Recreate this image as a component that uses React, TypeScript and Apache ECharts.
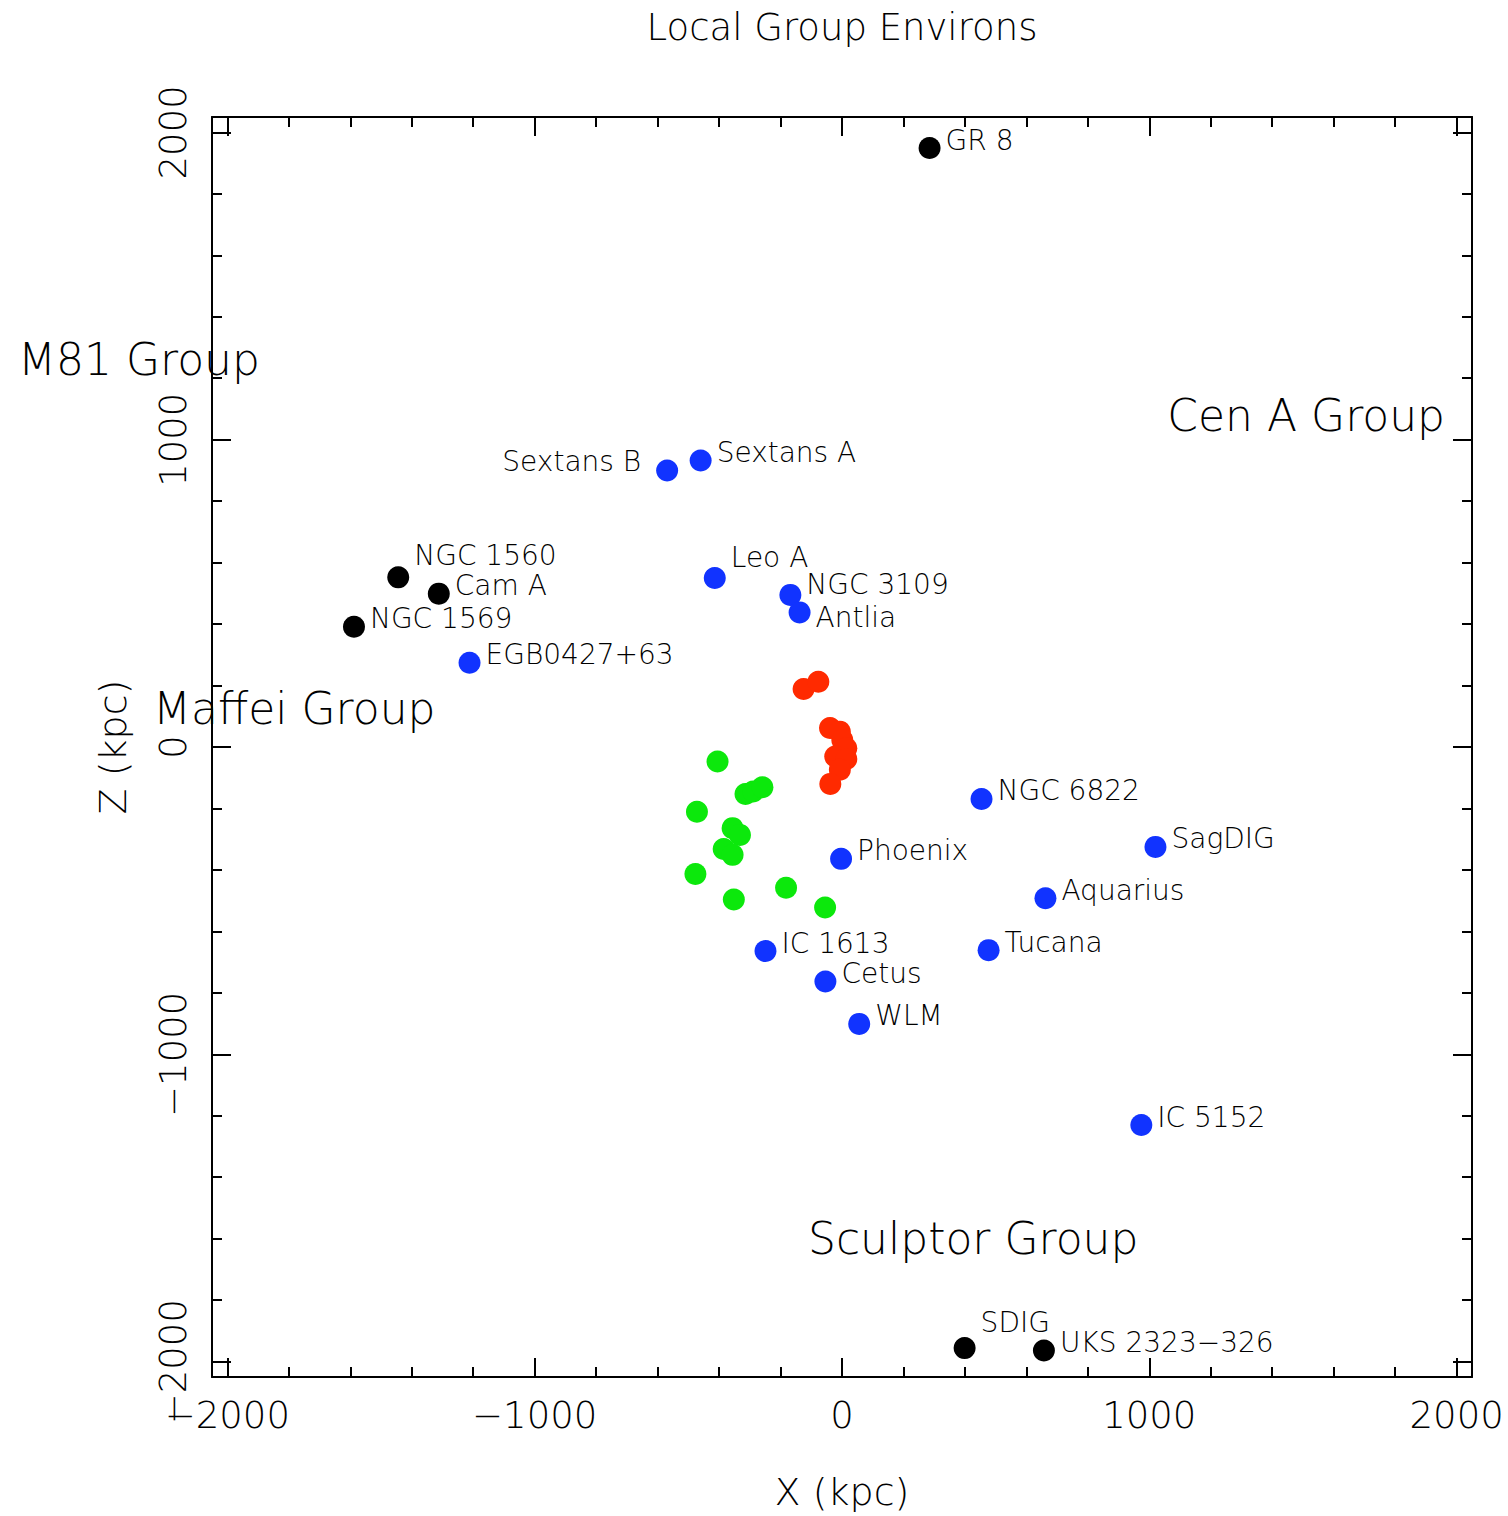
import React, { useEffect, useRef } from "react";
import * as echarts from "echarts";

// ---- data ----
const AXIS_MIN = -2050;
const AXIS_MAX = 2050;
const majorTicks = [-2000, -1000, 0, 1000, 2000];
const minorTicks = [-1800, -1600, -1400, -1200, -800, -600, -400, -200, 200, 400, 600, 800, 1200, 1400, 1600, 1800];

const blackNames = ["GR 8", "NGC 1560", "Cam A", "NGC 1569", "SDIG", "UKS 2323−326"];
const blackX = [285, -1444, -1312, -1588, 399, 657];
const blackZ = [1949, 552, 499, 391, -1956, -1964];

const blueNames = [
  "Sextans B", "Sextans A", "Leo A", "NGC 3109", "Antlia", "EGB0427+63", "NGC 6822", "SagDIG",
  "Phoenix", "Aquarius", "Tucana", "IC 1613", "Cetus", "WLM", "IC 5152",
];
const blueX = [-569, -460, -414, -168, -138, -1212, 454, 1020, -3, 662, 477, -249, -54, 56, 974];
const blueZ = [900, 932, 550, 495, 438, 274, -169, -325, -364, -492, -661, -664, -763, -901, -1230];

const redX = [-125, -77, -39, -7, 1, 14, -22, 14, -7, -38];
const redZ = [189, 212, 62, 50, 23, -4, -31, -39, -74, -120];

const greenX = [-405, -314, -289, -259, -472, -356, -332, -385, -356, -477, -352, -182, -55];
const greenZ = [-47, -153, -145, -131, -211, -264, -286, -332, -351, -413, -496, -458, -522];

const titleText = "Local Group Environs";
const xName = "X (kpc)";
const yName = "Z (kpc)";
const groupLabels = ["M81 Group", "Cen A Group", "Maffei Group", "Sculptor Group"];

// ---- styles ----
const FONT = "'DejaVu Sans', sans-serif";
const WEIGHT = 300;
const labelTweaks: Record<string, any> = {
  "NGC 1560": { offset: [0, -22] },
  "Leo A": { offset: [0, -20] },
  SDIG: { offset: [0, -26] },
  "NGC 3109": { offset: [0, -10] },
  Antlia: { offset: [0, 5] },
  "Sextans B": { position: "left", distance: 15, offset: [0, -9] },
};
const groupLayout = [
  { x: 18, y: 359, align: "left" },
  { x: 1445, y: 415, align: "right" },
  { x: 153, y: 708, align: "left" },
  { x: 808, y: 1238, align: "left" },
];

const fmt = (v: number) => String(v).replace("-", "−");

function xAxisDef(position: string, ticks: number[], len: number, withLabel: boolean, showLine: boolean) {
  return {
    type: "value",
    position,
    min: AXIS_MIN,
    max: AXIS_MAX,
    axisLine: { show: showLine, onZero: false, lineStyle: { color: "#000", width: 2 } },
    axisTick: { show: true, inside: true, length: len, customValues: ticks, lineStyle: { color: "#000", width: 2 } },
    axisLabel: withLabel
      ? { show: true, customValues: majorTicks, formatter: fmt, fontSize: 37, fontWeight: WEIGHT, color: "#000", fontFamily: FONT, margin: 20 }
      : { show: false },
    splitLine: { show: false },
  } as any;
}

function yAxisDef(position: string, ticks: number[], len: number, withLabel: boolean, showLine: boolean) {
  return {
    type: "value",
    position,
    min: AXIS_MIN,
    max: AXIS_MAX,
    axisLine: { show: showLine, onZero: false, lineStyle: { color: "#000", width: 2 } },
    axisTick: { show: true, inside: true, length: len, customValues: ticks, lineStyle: { color: "#000", width: 2 } },
    axisLabel: withLabel
      ? { show: true, customValues: majorTicks, formatter: fmt, fontSize: 37, fontWeight: WEIGHT, color: "#000", fontFamily: FONT, rotate: 90, margin: 20 }
      : { show: false },
    splitLine: { show: false },
  } as any;
}

function namedSeries(names: string[], xs: number[], zs: number[], color: string) {
  return {
    type: "scatter",
    symbol: "circle",
    symbolSize: 22,
    itemStyle: { color, opacity: 1 },
    emphasis: { disabled: true },
    label: {
      show: true,
      position: "right",
      distance: 5,
      offset: [0, -8],
      formatter: "{b}",
      fontSize: 28,
      lineHeight: 27,
      fontWeight: WEIGHT,
      color: "#000",
      fontFamily: FONT,
    },
    data: names.map((n, i) => ({ name: n, value: [xs[i], zs[i]], label: labelTweaks[n] })),
  } as any;
}

function plainSeries(xs: number[], zs: number[], color: string) {
  return {
    type: "scatter",
    symbol: "circle",
    symbolSize: 22,
    itemStyle: { color, opacity: 1 },
    emphasis: { disabled: true },
    data: xs.map((x, i) => [x, zs[i]]),
  } as any;
}

export default function App() {
  const ref = useRef<HTMLDivElement>(null);
  useEffect(() => {
    if (!ref.current) return;
    const chart = echarts.init(ref.current, undefined, { renderer: "svg" });
    const option: any = {
      animation: false,
      backgroundColor: "#fff",
      grid: { left: 212, top: 117, width: 1260, height: 1260, containLabel: false },
      xAxis: [
        {
          ...xAxisDef("bottom", majorTicks, 19, true, true),
          name: xName,
          nameLocation: "middle",
          nameGap: 96,
          nameTextStyle: { fontSize: 38, fontWeight: WEIGHT, color: "#000", fontFamily: FONT },
        },
        xAxisDef("bottom", minorTicks, 10, false, false),
        xAxisDef("top", majorTicks, 19, false, true),
        xAxisDef("top", minorTicks, 10, false, false),
      ],
      yAxis: [
        {
          ...yAxisDef("left", majorTicks, 19, true, true),
          name: yName,
          nameLocation: "middle",
          nameGap: 80,
          nameRotate: 90,
          nameTextStyle: { fontSize: 38, fontWeight: WEIGHT, color: "#000", fontFamily: FONT },
        },
        yAxisDef("left", minorTicks, 10, false, false),
        yAxisDef("right", majorTicks, 19, false, true),
        yAxisDef("right", minorTicks, 10, false, false),
      ],
      graphic: [
        {
          type: "text",
          x: 842,
          y: 27,
          style: { text: titleText, fill: "#000", font: `${WEIGHT} 37px ${FONT}`, textAlign: "center", textVerticalAlign: "middle" },
        },
        ...groupLabels.map((t, i) => ({
          type: "text",
          x: groupLayout[i].x,
          y: groupLayout[i].y,
          z: 10,
          style: {
            text: t,
            fill: "#000",
            font: `${WEIGHT} 44px ${FONT}`,
            textAlign: groupLayout[i].align,
            textVerticalAlign: "middle",
          },
        })),
      ],
      series: [
        plainSeries(greenX, greenZ, "#0ce80c"),
        plainSeries(redX, redZ, "#ff2a00"),
        namedSeries(blueNames, blueX, blueZ, "#1133ff"),
        namedSeries(blackNames, blackX, blackZ, "#000000"),
      ],
    };
    chart.setOption(option);
    return () => chart.dispose();
  }, []);
  return <div ref={ref} style={{ position: "absolute", left: 0, top: 0, width: 1508, height: 1516 }} />;
}
